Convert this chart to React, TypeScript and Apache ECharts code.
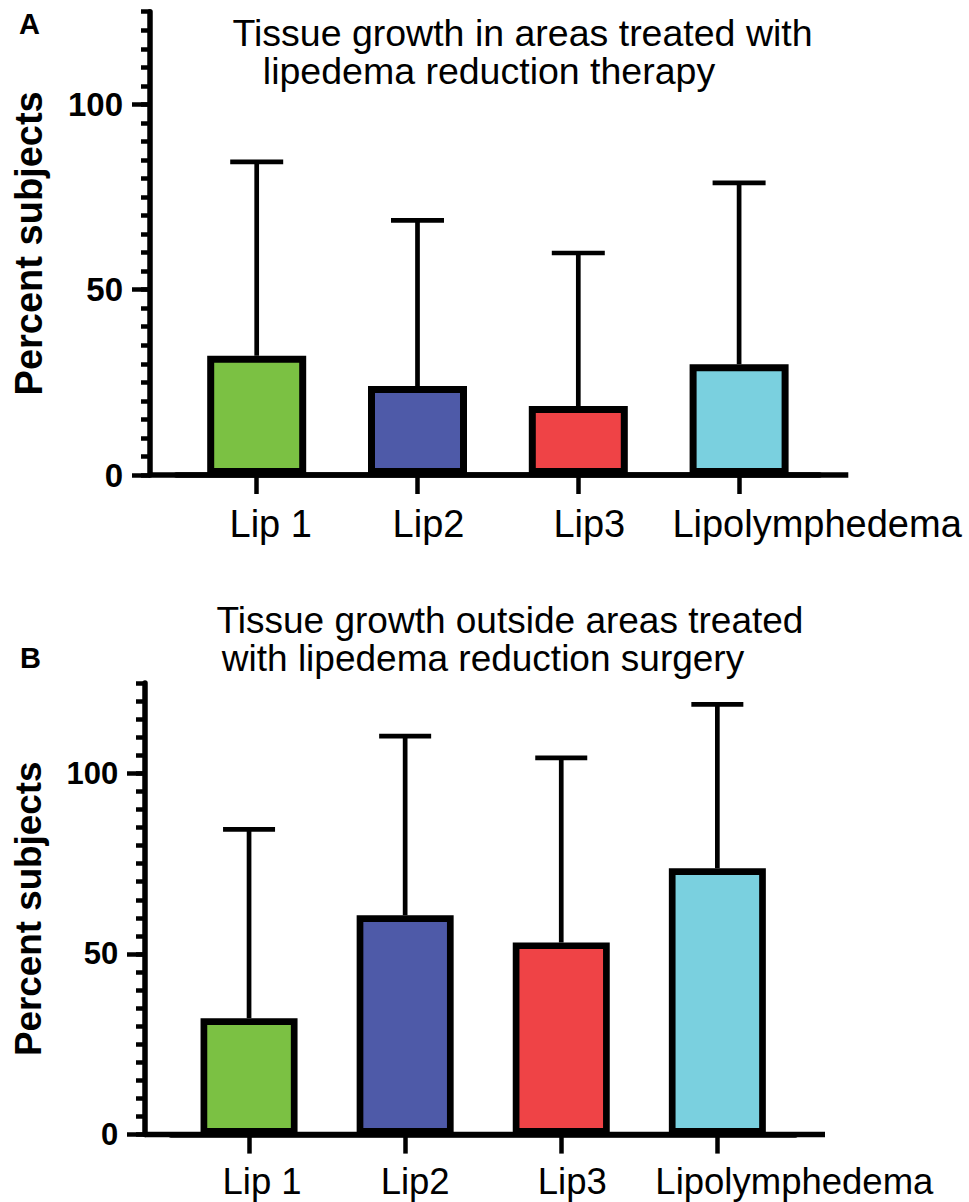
import React, { useEffect, useRef } from "react";
import * as echarts from "echarts";

// ---- Data ----
const categories = ["Lip 1", "Lip2", "Lip3", "Lipolymphedema"];
const meanA = [32.2, 24.0, 18.6, 29.9];
const sdA = [52.3, 44.7, 41.3, 48.9];
const meanB = [32.2, 60.7, 53.2, 73.7];
const sdB = [52.3, 49.6, 51.1, 45.4];
const yMajorTicks = [0, 50, 100];
const yMax = 125;
const yMinorStep = 5;
const titleA = ["Tissue growth in areas treated with", "lipedema reduction therapy"];
const titleB = ["Tissue growth outside areas treated", "with lipedema reduction surgery"];
const panelLetters = ["A", "B"];
const yName = "Percent subjects";

// ---- Styles ----
const barColors = ["#7BC143", "#4E5AA8", "#EF4346", "#7AD0DF"];
const labelShiftA = [14, 11, 11, 78];
const labelShiftB = [13, 10, 11, 77];
const FONT = "Liberation Sans";

export default function App() {
  const ref = useRef<HTMLDivElement>(null);

  useEffect(() => {
    document.body.style.margin = "0";
    if (!ref.current) return;
    const chart = echarts.init(ref.current, null, { renderer: "svg" });

    const panels = [
      {
        left: 176.3, width: 643.2, top: 11.7, height: 463.3, offset: 26.3,
        mean: meanA, sd: sdA, shift: labelShiftA, xFont: 38, xMargin: 30,
        yFont: 33, yMargin: 27, nameFont: 38, nameGap: 102, barWidth: 99,
        border: 7, capHalf: 26.5, axisRight: 848.3,
      },
      {
        left: 171, width: 624.4, top: 683, height: 451.6, offset: 26,
        mean: meanB, sd: sdB, shift: labelShiftB, xFont: 36.5, xMargin: 28,
        yFont: 31, yMargin: 26.7, nameFont: 36.8, nameGap: 97.7, barWidth: 97,
        border: 6.7, capHalf: 26, axisRight: 825,
      },
    ];

    const grid: any[] = [];
    const xAxis: any[] = [];
    const yAxis: any[] = [];
    const series: any[] = [];
    const graphic: any[] = [];

    panels.forEach((p, gi) => {
      grid.push({ left: p.left, width: p.width, top: p.top, height: p.height, containLabel: false, outerBoundsMode: "none" });
      xAxis.push({
        gridIndex: gi,
        type: "category",
        data: categories.map((c, i) => ({ value: c, textStyle: { padding: [0, 0, 0, 2 * p.shift[i]] } })),
        axisLine: { show: true, lineStyle: { color: "#000", width: 5.5 } },
        axisTick: { show: true, alignWithLabel: true, length: 19, lineStyle: { color: "#000", width: 4.5 } },
        axisLabel: { interval: 0, margin: p.xMargin, fontSize: p.xFont, fontFamily: FONT, color: "#000" },
        splitLine: { show: false },
      });
      yAxis.push({
        gridIndex: gi,
        type: "value",
        position: "left",
        offset: p.offset,
        min: 0,
        max: yMax,
        interval: yMinorStep,
        axisLine: { show: true, lineStyle: { color: "#000", width: 5.5 } },
        axisTick: { show: true, length: 9, lineStyle: { color: "#000", width: 4.5 } },
        axisLabel: {
          customValues: yMajorTicks,
          margin: p.yMargin,
          fontSize: p.yFont,
          fontWeight: "bold",
          fontFamily: FONT,
          color: "#000",
        },
        splitLine: { show: false },
        name: yName,
        nameLocation: "middle",
        nameGap: p.nameGap,
        nameTextStyle: { fontSize: p.nameFont, fontWeight: "bold", fontFamily: FONT, color: "#000" },
      });
      yAxis.push({
        gridIndex: gi,
        type: "value",
        position: "left",
        offset: p.offset,
        min: 0,
        max: yMax,
        interval: yMinorStep,
        axisLine: { show: false },
        axisTick: { show: true, customValues: yMajorTicks, length: 18, lineStyle: { color: "#000", width: 4.5 } },
        axisLabel: { show: false },
        splitLine: { show: false },
      });
      const yIdx = gi * 2;
      series.push({
        type: "bar",
        xAxisIndex: gi,
        yAxisIndex: yIdx,
        barWidth: p.barWidth,
        data: p.mean.map((v, i) => ({
          value: v,
          itemStyle: { color: barColors[i], borderColor: "#000", borderWidth: p.border },
        })),
        z: 2,
      });
      const capHalf = p.capHalf;
      series.push({
        type: "custom",
        xAxisIndex: gi,
        yAxisIndex: yIdx,
        data: p.mean.map((v, i) => [i, v, v + p.sd[i]]),
        encode: { x: 0, y: [1, 2] },
        z: 3,
        renderItem: (params: any, api: any) => {
          const i = api.value(0);
          const m = api.value(1);
          const t = api.value(2);
          const p0 = api.coord([i, m]);
          const p1 = api.coord([i, t]);
          const st = { stroke: "#000", lineWidth: 4.7 };
          return {
            type: "group",
            children: [
              { type: "line", shape: { x1: p0[0], y1: p0[1], x2: p1[0], y2: p1[1] }, style: st },
              { type: "line", shape: { x1: p1[0] - capHalf, y1: p1[1], x2: p1[0] + capHalf, y2: p1[1] }, style: st },
            ],
          };
        },
      });
      // extend the baseline beyond the category band, as in the reference
      const axisX = p.left - p.offset;
      const baseY = p.top + p.height;
      graphic.push({
        type: "line",
        z: 5,
        shape: { x1: axisX, y1: baseY, x2: p.axisRight, y2: baseY },
        style: { stroke: "#000", lineWidth: 5.5 },
      });
    });

    const txt = (text: string, x: number, y: number, size: number, weight: string, align: string) => ({
      type: "text",
      x,
      y,
      style: { text, fontSize: size, fontFamily: FONT, fontWeight: weight, fill: "#000", align, verticalAlign: "middle" },
    });

    graphic.push(txt(panelLetters[0], 19, 24, 29, "bold", "left"));
    graphic.push(txt(panelLetters[1], 20, 658, 29, "bold", "left"));
    graphic.push(txt(titleA[0], 522.5, 32.5, 37.5, "normal", "center"));
    graphic.push(txt(titleA[1], 489, 70.8, 37.5, "normal", "center"));
    graphic.push(txt(titleB[0], 510, 620.2, 37, "normal", "center"));
    graphic.push(txt(titleB[1], 483, 658.9, 37, "normal", "center"));

    chart.setOption({
      animation: false,
      backgroundColor: "#fff",
      grid,
      xAxis,
      yAxis,
      series,
      graphic,
    });

    return () => chart.dispose();
  }, []);

  return <div ref={ref} style={{ position: "fixed", left: 0, top: 0, width: 969, height: 1202 }} />;
}
